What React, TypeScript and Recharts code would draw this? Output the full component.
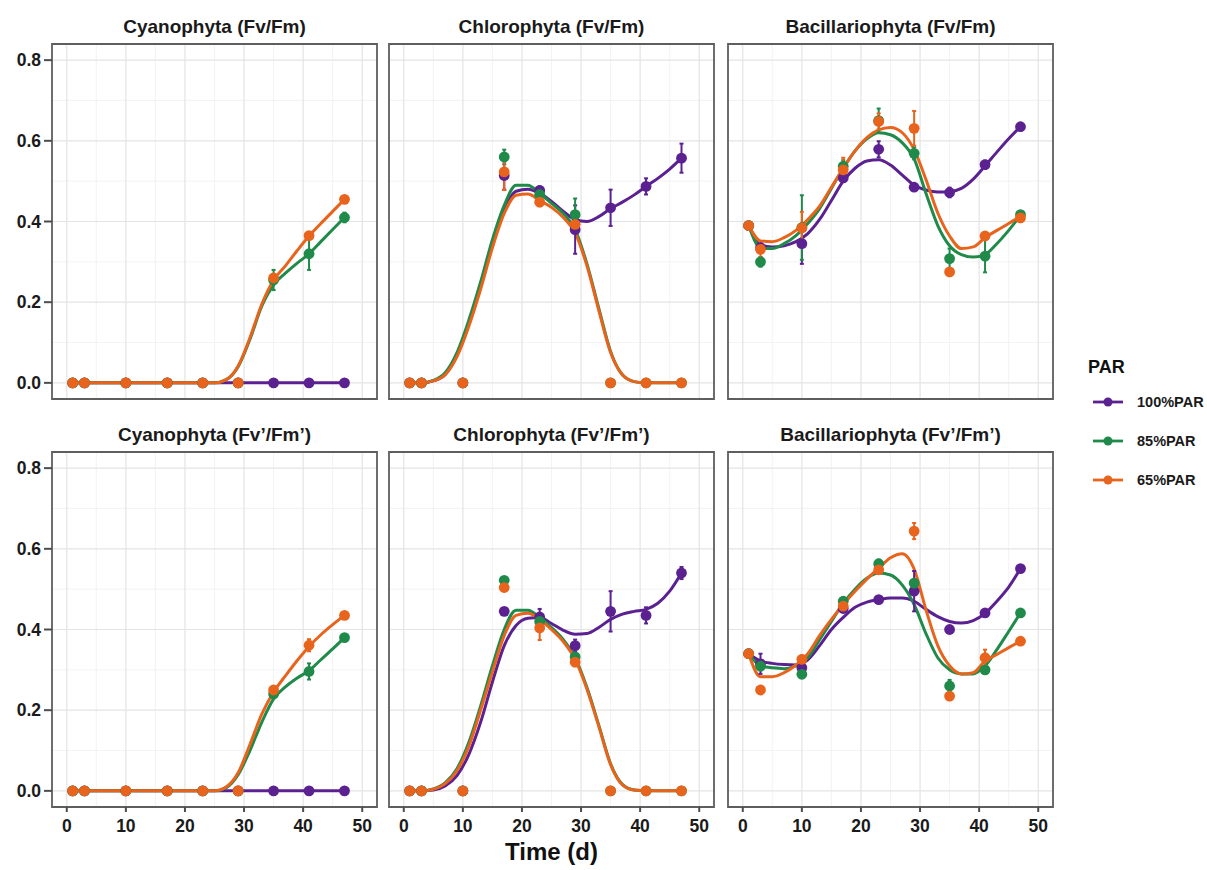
import React from 'react';
import {
  ComposedChart, Line, Scatter, XAxis, YAxis, CartesianGrid, ErrorBar, ReferenceArea,
} from 'recharts';

// ---------- data ----------
const DAYS = [1, 3, 10, 17, 23, 29, 35, 41, 47];
const FIT_DAYS = [1, 3, 5, 7, 9, 11, 13, 15, 17, 19, 21, 23, 25, 27, 29, 31, 33, 35, 37, 39, 41, 43, 45, 47];
const SERIES_NAMES = ['100%PAR', '85%PAR', '65%PAR'];
const SERIES_COLORS = ['#5b2190', '#1f8a4a', '#e8641c'];
const PANEL_TITLES = [
  'Cyanophyta (Fv/Fm)', 'Chlorophyta (Fv/Fm)', 'Bacillariophyta (Fv/Fm)',
  'Cyanophyta (Fv\u2019/Fm\u2019)', 'Chlorophyta (Fv\u2019/Fm\u2019)', 'Bacillariophyta (Fv\u2019/Fm\u2019)',
];
const X_TICKS = [0, 10, 20, 30, 40, 50];
const X_MINOR = [5, 15, 25, 35, 45];
const Y_TICKS = [0, 0.2, 0.4, 0.6, 0.8];
const Y_MINOR = [0.1, 0.3, 0.5, 0.7];
const X_DOMAIN = [-2.5, 52.5];
const Y_DOMAIN = [-0.04, 0.84];
const X_LABEL = 'Time (d)';
const LEGEND_TITLE = 'PAR';

// series order in each panel array: 100%PAR, 85%PAR, 65%PAR
const CYANO_FVFM_MEAN = [
  [0, 0, 0, 0, 0, 0, 0, 0, 0],
  [0, 0, 0, 0, 0, 0, 0.255, 0.32, 0.41],
  [0, 0, 0, 0, 0, 0, 0.26, 0.365, 0.455],
];
const CYANO_FVFM_SE = [
  [0, 0, 0, 0, 0, 0, 0, 0, 0],
  [0, 0, 0, 0, 0, 0, 0.025, 0.04, 0.012],
  [0, 0, 0, 0, 0, 0, 0.01, 0.008, 0.006],
];
const CYANO_FVFM_FIT = [
  [0, 0, 0, 0, 0, 0, 0, 0, 0, 0, 0, 0, 0, 0, 0, 0, 0, 0, 0, 0, 0, 0, 0, 0],
  [0, 0, 0, 0, 0, 0, 0, 0, 0, 0, 0, 0, 0, 0.008, 0.04, 0.108, 0.19, 0.243, 0.272, 0.297, 0.32, 0.35, 0.38, 0.41],
  [0, 0, 0, 0, 0, 0, 0, 0, 0, 0, 0, 0, 0, 0.008, 0.042, 0.112, 0.195, 0.255, 0.29, 0.328, 0.364, 0.395, 0.425, 0.455],
];

const CHLORO_FVFM_MEAN = [
  [0, 0, 0, 0.514, 0.477, 0.38, 0.434, 0.487, 0.557],
  [0, 0, 0, 0.56, 0.467, 0.417, 0, 0, 0],
  [0, 0, 0, 0.523, 0.448, 0.393, 0, 0, 0],
];
const CHLORO_FVFM_SE = [
  [0, 0, 0, 0.035, 0.01, 0.06, 0.045, 0.02, 0.036],
  [0, 0, 0, 0.018, 0.015, 0.04, 0, 0, 0],
  [0, 0, 0, 0.045, 0.01, 0.02, 0, 0, 0],
];
const CHLORO_FVFM_FIT = [
  [0, 0, 0.005, 0.02, 0.068, 0.145, 0.24, 0.345, 0.43, 0.475, 0.48, 0.47, 0.45, 0.425, 0.405, 0.4, 0.412, 0.432, 0.448, 0.466, 0.487, 0.507, 0.53, 0.557],
  [0, 0, 0.006, 0.025, 0.075, 0.155, 0.25, 0.355, 0.44, 0.49, 0.49, 0.47, 0.445, 0.42, 0.38, 0.295, 0.185, 0.078, 0.02, 0.003, 0, 0, 0, 0],
  [0, 0, 0.005, 0.02, 0.065, 0.14, 0.232, 0.335, 0.42, 0.465, 0.468, 0.452, 0.435, 0.41, 0.372, 0.29, 0.18, 0.075, 0.02, 0.003, 0, 0, 0, 0],
];

const BACIL_FVFM_MEAN = [
  [0.39, 0.335, 0.345, 0.508, 0.579, 0.485, 0.472, 0.541, 0.635],
  [0.39, 0.3, 0.385, 0.537, 0.65, 0.569, 0.308, 0.314, 0.417],
  [0.39, 0.331, 0.384, 0.528, 0.648, 0.631, 0.275, 0.364, 0.409],
];
const BACIL_FVFM_SE = [
  [0.005, 0.01, 0.05, 0.01, 0.02, 0.008, 0.012, 0.01, 0.008],
  [0.005, 0.012, 0.08, 0.015, 0.03, 0.015, 0.025, 0.04, 0.008],
  [0.005, 0.02, 0.04, 0.03, 0.02, 0.043, 0.005, 0.008, 0.01],
];
const BACIL_FVFM_FIT = [
  [0.39, 0.342, 0.337, 0.34, 0.35, 0.37, 0.405, 0.452, 0.5, 0.532, 0.55, 0.553, 0.54, 0.515, 0.49, 0.478, 0.473, 0.474, 0.482, 0.505, 0.538, 0.572, 0.605, 0.635],
  [0.39, 0.335, 0.333, 0.345, 0.365, 0.395, 0.432, 0.482, 0.532, 0.575, 0.605, 0.62, 0.615, 0.595, 0.555, 0.47, 0.39, 0.34, 0.318, 0.312, 0.318, 0.345, 0.378, 0.415],
  [0.39, 0.352, 0.35, 0.36, 0.378, 0.405, 0.438, 0.485, 0.532, 0.575, 0.608, 0.627, 0.633, 0.62, 0.578, 0.504, 0.421, 0.364, 0.333, 0.337, 0.36, 0.378, 0.395, 0.413],
];

const CYANO_FVFMP_MEAN = [
  [0, 0, 0, 0, 0, 0, 0, 0, 0],
  [0, 0, 0, 0, 0, 0, 0.24, 0.296, 0.38],
  [0, 0, 0, 0, 0, 0, 0.25, 0.361, 0.435],
];
const CYANO_FVFMP_SE = [
  [0, 0, 0, 0, 0, 0, 0, 0, 0],
  [0, 0, 0, 0, 0, 0, 0.008, 0.02, 0.006],
  [0, 0, 0, 0, 0, 0, 0.006, 0.015, 0.006],
];
const CYANO_FVFMP_FIT = [
  [0, 0, 0, 0, 0, 0, 0, 0, 0, 0, 0, 0, 0, 0, 0, 0, 0, 0, 0, 0, 0, 0, 0, 0],
  [0, 0, 0, 0, 0, 0, 0, 0, 0, 0, 0, 0, 0, 0.008, 0.04, 0.1, 0.17, 0.228, 0.258, 0.28, 0.298, 0.325, 0.352, 0.38],
  [0, 0, 0, 0, 0, 0, 0, 0, 0, 0, 0, 0, 0, 0.01, 0.045, 0.115, 0.19, 0.245, 0.285, 0.323, 0.358, 0.387, 0.412, 0.435],
];

const CHLORO_FVFMP_MEAN = [
  [0, 0, 0, 0.445, 0.431, 0.36, 0.445, 0.435, 0.54],
  [0, 0, 0, 0.522, 0.42, 0.332, 0, 0, 0],
  [0, 0, 0, 0.504, 0.404, 0.319, 0, 0, 0],
];
const CHLORO_FVFMP_SE = [
  [0, 0, 0, 0.008, 0.02, 0.015, 0.05, 0.02, 0.015],
  [0, 0, 0, 0.008, 0.01, 0.01, 0, 0, 0],
  [0, 0, 0, 0.008, 0.03, 0.01, 0, 0, 0],
];
const CHLORO_FVFMP_FIT = [
  [0, 0, 0.002, 0.012, 0.038, 0.09, 0.17, 0.27, 0.36, 0.41, 0.428, 0.43, 0.415, 0.398, 0.388, 0.39, 0.405, 0.425, 0.438, 0.445, 0.45, 0.465, 0.495, 0.54],
  [0, 0, 0.005, 0.02, 0.055, 0.12, 0.21, 0.31, 0.4, 0.448, 0.448, 0.43, 0.405, 0.375, 0.33, 0.256, 0.163, 0.067, 0.016, 0.002, 0, 0, 0, 0],
  [0, 0, 0.004, 0.018, 0.05, 0.11, 0.2, 0.295, 0.385, 0.435, 0.44, 0.425, 0.4, 0.37, 0.326, 0.252, 0.16, 0.065, 0.015, 0.002, 0, 0, 0, 0],
];

const BACIL_FVFMP_MEAN = [
  [0.34, 0.315, 0.305, 0.452, 0.474, 0.495, 0.4, 0.441, 0.551],
  [0.34, 0.309, 0.289, 0.47, 0.563, 0.515, 0.26, 0.3, 0.441],
  [0.34, 0.25, 0.326, 0.458, 0.548, 0.644, 0.235, 0.33, 0.371],
];
const BACIL_FVFMP_SE = [
  [0.005, 0.025, 0.008, 0.008, 0.008, 0.05, 0.005, 0.008, 0.008],
  [0.005, 0.01, 0.008, 0.008, 0.01, 0.01, 0.015, 0.008, 0.008],
  [0.005, 0.008, 0.01, 0.01, 0.01, 0.02, 0.008, 0.02, 0.008],
];
const BACIL_FVFMP_FIT = [
  [0.34, 0.322, 0.316, 0.313, 0.312, 0.325, 0.36, 0.4, 0.43, 0.455, 0.468, 0.474, 0.478, 0.478, 0.47, 0.45, 0.432, 0.42, 0.416, 0.422, 0.44, 0.47, 0.505, 0.551],
  [0.34, 0.31, 0.305, 0.303, 0.31, 0.33, 0.375, 0.42, 0.465, 0.5, 0.527, 0.54, 0.535, 0.51, 0.462, 0.39, 0.33, 0.3, 0.29, 0.29, 0.31, 0.35, 0.395, 0.441],
  [0.34, 0.283, 0.283, 0.293, 0.312, 0.34, 0.385, 0.425, 0.462, 0.495, 0.525, 0.552, 0.578, 0.588, 0.55, 0.449, 0.36, 0.31, 0.29, 0.293, 0.322, 0.338, 0.355, 0.371],
];

const PANELS = [
  { mean: CYANO_FVFM_MEAN, se: CYANO_FVFM_SE, fit: CYANO_FVFM_FIT },
  { mean: CHLORO_FVFM_MEAN, se: CHLORO_FVFM_SE, fit: CHLORO_FVFM_FIT },
  { mean: BACIL_FVFM_MEAN, se: BACIL_FVFM_SE, fit: BACIL_FVFM_FIT },
  { mean: CYANO_FVFMP_MEAN, se: CYANO_FVFMP_SE, fit: CYANO_FVFMP_FIT },
  { mean: CHLORO_FVFMP_MEAN, se: CHLORO_FVFMP_SE, fit: CHLORO_FVFMP_FIT },
  { mean: BACIL_FVFMP_MEAN, se: BACIL_FVFMP_SE, fit: BACIL_FVFMP_FIT },
];

// ---------- layout ----------
const FONT = '"Liberation Sans", Arial, Helvetica, sans-serif';
const COL_LEFT = [52, 389, 728];
const ROW_TOP = [44, 452];
const PW = 325;
const PH = 355;
const PAD = 2;
const Y_AXIS_W = 52;
const X_AXIS_H = 30;

const Dot = (color: string) => (props: any) => {
  const { cx, cy } = props;
  if (cx == null || cy == null) return null;
  return <circle cx={cx} cy={cy} r={5.4} fill={color} />;
};

function Panel({ index }: { index: number }) {
  const col = index % 3;
  const row = Math.floor(index / 3);
  const showY = col === 0;
  const showX = row === 1;
  const p = PANELS[index];
  const left = COL_LEFT[col] - PAD - (showY ? Y_AXIS_W : 0);
  const top = ROW_TOP[row] - PAD;
  const width = PW + 2 * PAD + (showY ? Y_AXIS_W : 0);
  const height = PH + 2 * PAD + (showX ? X_AXIS_H : 0);

  const tickStyle = { fontFamily: FONT, fontSize: 17.5, fontWeight: 700, fill: '#1a1a1a' };

  return (
    <div style={{ position: 'absolute', left, top, width, height }}>
      <ComposedChart width={width} height={height} margin={{ top: PAD, right: PAD, bottom: PAD, left: PAD }}>
        <CartesianGrid
          horizontalValues={Y_MINOR}
          verticalValues={X_MINOR}
          stroke="#f0f0f0"
          strokeWidth={0.8}
        />
        <CartesianGrid
          horizontalValues={Y_TICKS}
          verticalValues={X_TICKS}
          stroke="#e4e4e4"
          strokeWidth={1.2}
        />
        <XAxis
          dataKey="x"
          type="number"
          domain={X_DOMAIN}
          ticks={X_TICKS}
          allowDataOverflow
          hide={!showX}
          height={X_AXIS_H}
          axisLine={false}
          tickLine={{ stroke: '#4d4d4d', strokeWidth: 2 }}
          tickSize={5}
          tickMargin={8}
          tick={tickStyle}
          interval={0}
        />
        <YAxis
          type="number"
          domain={Y_DOMAIN}
          ticks={Y_TICKS}
          allowDataOverflow
          hide={!showY}
          width={Y_AXIS_W}
          axisLine={false}
          tickLine={{ stroke: '#4d4d4d', strokeWidth: 2 }}
          tickSize={8}
          tickMargin={3}
          tick={tickStyle}
          tickFormatter={(v: number) => v.toFixed(1)}
          interval={0}
        />
        {SERIES_NAMES.map((name, s) => (
          <Line
            key={'fit' + s}
            data={FIT_DAYS.map((d, i) => ({ x: d, y: p.fit[s][i] }))}
            dataKey="y"
            type="monotone"
            stroke={SERIES_COLORS[s]}
            strokeWidth={3}
            dot={false}
            activeDot={false}
            isAnimationActive={false}
            name={name}
          />
        ))}
        {SERIES_NAMES.map((name, s) => (
          <Scatter
            key={'pt' + s}
            data={DAYS.map((d, i) => ({ x: d, y: p.mean[s][i], e: p.se[s][i] }))}
            dataKey="y"
            shape={Dot(SERIES_COLORS[s])}
            isAnimationActive={false}
            name={name}
          >
            <ErrorBar dataKey="e" direction="y" width={2} stroke={SERIES_COLORS[s]} strokeWidth={2} isAnimationActive={false} />
          </Scatter>
        ))}
        <ReferenceArea
          x1={X_DOMAIN[0]}
          x2={X_DOMAIN[1]}
          y1={Y_DOMAIN[0]}
          y2={Y_DOMAIN[1]}
          fill="none"
          fillOpacity={0}
          stroke="#5e5e5e"
          strokeWidth={1.8}
          ifOverflow="visible"
        />
      </ComposedChart>
    </div>
  );
}

export default function App() {
  const legendY = [402, 441, 480];
  return (
    <div style={{ position: 'absolute', left: 0, top: 0, width: 1207, height: 870, background: '#fff', fontFamily: FONT }}>
      <svg width={1207} height={870} style={{ position: 'absolute', left: 0, top: 0 }}>
        {PANEL_TITLES.map((t, i) => {
          const col = i % 3;
          const row = Math.floor(i / 3);
          return (
            <text
              key={t}
              x={COL_LEFT[col] + PW / 2}
              y={row === 0 ? 33 : 441}
              textAnchor="middle"
              fontFamily={FONT}
              fontSize={19}
              fontWeight={700}
              fill="#1a1a1a"
            >
              {t}
            </text>
          );
        })}
        <text x={COL_LEFT[1] + PW / 2} y={860} textAnchor="middle" fontFamily={FONT} fontSize={24} fontWeight={700} fill="#111">
          {X_LABEL}
        </text>
        <text x={1088} y={373} fontFamily={FONT} fontSize={18} fontWeight={700} fill="#111">
          {LEGEND_TITLE}
        </text>
        {SERIES_NAMES.map((name, s) => (
          <g key={name}>
            <line x1={1093} x2={1123} y1={legendY[s]} y2={legendY[s]} stroke={SERIES_COLORS[s]} strokeWidth={2.8} />
            <circle cx={1108} cy={legendY[s]} r={4.5} fill={SERIES_COLORS[s]} />
            <text x={1137} y={legendY[s] + 5} fontFamily={FONT} fontSize={14.5} fontWeight={700} fill="#1a1a1a">
              {name}
            </text>
          </g>
        ))}
      </svg>
      {PANELS.map((_, i) => (
        <Panel key={i} index={i} />
      ))}
    </div>
  );
}
